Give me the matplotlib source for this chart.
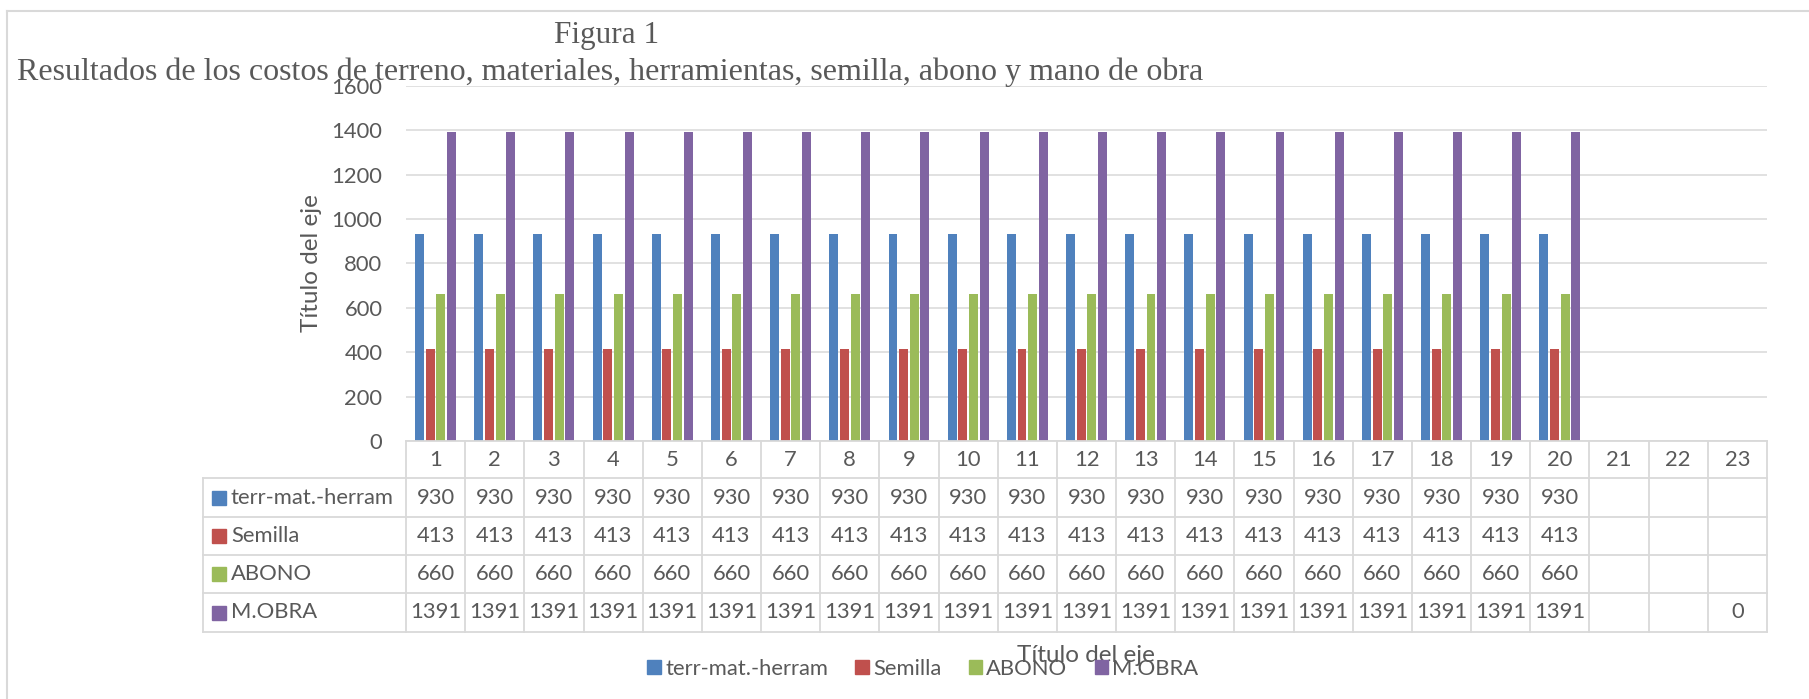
import matplotlib
matplotlib.use('Agg')
import matplotlib.pyplot as plt
from matplotlib.patches import Rectangle
from matplotlib.lines import Line2D

# ---------------- data ----------------
categories = ['1', '2', '3', '4', '5', '6', '7', '8', '9', '10', '11', '12',
              '13', '14', '15', '16', '17', '18', '19', '20', '21', '22', '23']
series_names = ['terr-mat.-herram', 'Semilla', 'ABONO', 'M.OBRA']
terr_mat_herram = [930, 930, 930, 930, 930, 930, 930, 930, 930, 930,
                   930, 930, 930, 930, 930, 930, 930, 930, 930, 930, None, None, None]
semilla = [413, 413, 413, 413, 413, 413, 413, 413, 413, 413,
           413, 413, 413, 413, 413, 413, 413, 413, 413, 413, None, None, None]
abono = [660, 660, 660, 660, 660, 660, 660, 660, 660, 660,
         660, 660, 660, 660, 660, 660, 660, 660, 660, 660, None, None, None]
m_obra = [1391, 1391, 1391, 1391, 1391, 1391, 1391, 1391, 1391, 1391,
          1391, 1391, 1391, 1391, 1391, 1391, 1391, 1391, 1391, 1391, None, None, 0]
y_ticks = [0, 200, 400, 600, 800, 1000, 1200, 1400, 1600]
title = 'Figura 1'
subtitle = ('Resultados de los costos de terreno, materiales, herramientas, '
            'semilla, abono y mano de obra')
axis_title = 'Título del eje'

series = [terr_mat_herram, semilla, abono, m_obra]
colors = ['#4F81BD', '#C0504D', '#9BBB59', '#8064A2']
TXT = '#595959'
GRID = '#D9D9D9'
SANS = ['Lato', 'DejaVu Sans']
SERIF = ['Liberation Serif', 'DejaVu Serif']
FS = 15.8        # table / tick font size
FS_AX = 17.5     # axis titles
FS_LEG = 15.8    # legend

W, H = 1809, 699
fig = plt.figure(figsize=(W / 100, H / 100), dpi=100)
fig.patch.set_facecolor('white')

# plot area in pixels
PL, PR, PT, PB = 406, 1767, 85.7, 441
ax = fig.add_axes([PL / W, 1 - PB / H, (PR - PL) / W, (PB - PT) / H])
n = len(categories)
bw = 0.152
step = 0.18
for i, (vals, c) in enumerate(zip(series, colors)):
    xs = [j + (i - 1.5) * step for j, v in enumerate(vals) if v is not None]
    hs = [v for v in vals if v is not None]
    ax.bar(xs, hs, width=bw, color=c, linewidth=0, zorder=3)

ax.set_xlim(-0.5, n - 0.5)
ax.set_ylim(y_ticks[0], y_ticks[-1])
ax.set_yticks(y_ticks)
ax.set_xticks([])
ax.grid(axis='y', color=GRID, linewidth=1.1, zorder=0)
for s in ax.spines.values():
    s.set_visible(False)
ax.tick_params(axis='y', length=0, pad=17, labelsize=FS, labelcolor=TXT)
for lab in ax.get_yticklabels():
    lab.set_family(SANS)
ax.set_ylabel(axis_title, fontsize=FS_AX, color=TXT, family=SANS, va='center')
ax.yaxis.set_label_coords((312 - PL) / (PR - PL), 0.5 - (263 - (PT + PB) / 2) / (PB - PT))

# ---------------- data table ----------------
TL, TB = 203, 632
colw = (PR - PL) / n
tax = fig.add_axes([TL / W, 1 - TB / H, (PR - TL) / W, (TB - PB) / H])
x0 = -0.5 - (PL - TL) / colw
tax.set_xlim(x0, n - 0.5)
tax.set_ylim(TB - PB, 0)
tax.axis('off')
row_edges = [0, 37, 76, 114, 152, TB - PB]
lw = 1.3
def hline(y, xa, xb):
    tax.add_line(Line2D([xa, xb], [y, y], color=GRID, lw=lw, clip_on=False))
def vline(x, ya, yb):
    tax.add_line(Line2D([x, x], [ya, yb], color=GRID, lw=lw, clip_on=False))

hline(row_edges[0], -0.5, n - 0.5)
for y in row_edges[1:]:
    hline(y, x0, n - 0.5)
vline(x0, row_edges[1], row_edges[-1])
for k in range(n + 1):
    vline(-0.5 + k, row_edges[0], row_edges[-1])

# header
hy = (row_edges[0] + row_edges[1]) / 2
for j, cat in enumerate(categories):
    tax.text(j, hy, cat, ha='center', va='center', fontsize=FS, color=TXT, family=SANS)

# rows
def px2x(px):
    return x0 + (px - TL) / colw
for r, (name, vals, c) in enumerate(zip(series_names, series, colors)):
    yc = (row_edges[r + 1] + row_edges[r + 2]) / 2
    tax.add_patch(Rectangle((px2x(212), yc - 7), 14 / colw, 14, color=c, clip_on=False))
    tax.text(px2x(231), yc, name, ha='left', va='center', fontsize=FS, color=TXT, family=SANS)
    for j, v in enumerate(vals):
        if v is not None:
            tax.text(j, yc, str(v), ha='center', va='center', fontsize=FS, color=TXT, family=SANS)

# x-axis title and legend
fig.text(1086 / W, 1 - 655 / H, axis_title, ha='center', va='center',
         fontsize=FS_AX, color=TXT, family=SANS, zorder=5)
handles = [Rectangle((0, 0), 1, 1, color=c) for c in colors]
leg = fig.legend(handles, series_names, loc='center', ncol=4,
                 bbox_to_anchor=(923 / W, 1 - 669 / H), frameon=False,
                 prop={'family': SANS, 'size': FS_LEG},
                 handlelength=0.6, handleheight=0.6, handletextpad=0.2,
                 columnspacing=1.25, borderpad=0, borderaxespad=0)
for t in leg.get_texts():
    t.set_color(TXT)

# titles
fig.text(607 / W, 1 - 43.3 / H, title, ha='center', va='baseline',
         fontsize=22.5, color=TXT, family=SERIF)
fig.text(17 / W, 1 - 80 / H, subtitle, ha='left', va='baseline',
         fontsize=23, color=TXT, family=SERIF)

# chart border
fig.add_artist(Line2D([7 / W, 1], [1 - 10.7 / H, 1 - 10.7 / H], transform=fig.transFigure,
                      color=GRID, lw=1.5))
fig.add_artist(Line2D([7 / W, 7 / W], [1 - 10.7 / H, 0], transform=fig.transFigure,
                      color=GRID, lw=1.5))

fig.savefig('out.png', dpi=100, facecolor='white')
